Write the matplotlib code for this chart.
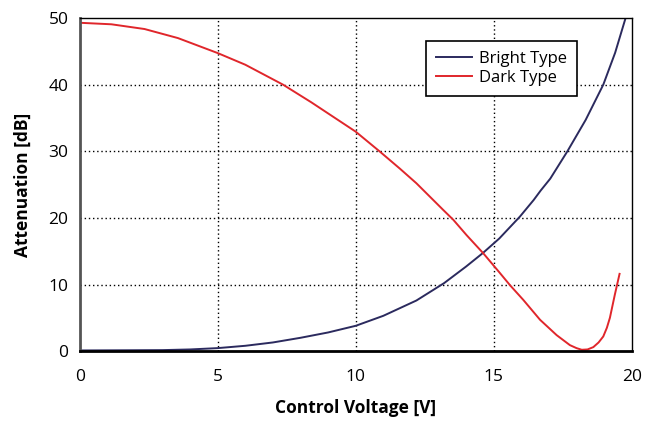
import matplotlib.pyplot as plt

plt.rcParams['font.family'] = ['Open Sans', 'DejaVu Sans']

# Courbes
bright_v = [0, 3, 4, 5, 6, 7, 8, 9, 10, 11, 12.2, 13.2, 14.0, 14.6, 15.2,
            15.95, 16.45, 16.7, 17.05, 17.67, 18.33, 18.97, 19.4, 19.85]
bright_db = [0.1, 0.15, 0.25, 0.45, 0.8, 1.3, 2.0, 2.8, 3.8, 5.3, 7.6, 10.2,
             12.7, 14.7, 16.9, 20.2, 22.7, 24.1, 25.9, 30, 34.7, 40, 44.8, 51]

dark_v = [0, 1.15, 2.35, 3.56, 5.0, 6.0, 7.37, 8.39, 10.0, 10.88, 11.6, 12.2,
          13.17, 13.54, 14.02, 14.62, 15.23, 15.59, 16.07, 16.68, 17.28,
          17.76, 18.0, 18.19, 18.4, 18.61, 18.8, 18.97, 19.1, 19.21, 19.39, 19.56]
dark_db = [49.3, 49.07, 48.36, 47.0, 44.75, 43.0, 40, 37.36, 32.95, 29.94,
           27.4, 25.2, 21.2, 19.7, 17.4, 14.7, 11.7, 9.9, 7.7, 4.7, 2.4,
           0.9, 0.45, 0.2, 0.25, 0.6, 1.3, 2.2, 3.5, 5.0, 8.5, 11.6]

x_ticks = [0, 5, 10, 15, 20]
y_ticks = [0, 10, 20, 30, 40, 50]

fig = plt.figure(figsize=(6.57, 4.21), dpi=100)
ax = fig.add_axes([0.1213, 0.166, 0.8402, 0.791])

ax.plot(bright_v, bright_db, color='#2b2a5e', linewidth=1.4, label='Bright Type')
ax.plot(dark_v, dark_db, color='#e0262b', linewidth=1.4, label='Dark Type')

ax.set_xlim(0, 20)
ax.set_ylim(0, 50)
ax.set_xticks(x_ticks)
ax.set_yticks(y_ticks)
ax.tick_params(length=0, labelsize=12.5)
ax.tick_params(axis='x', pad=13)
ax.tick_params(axis='y', pad=8)

# Grille pointillée
for v in x_ticks[1:-1]:
    ax.axvline(v, color='black', linewidth=1, linestyle=(0, (1, 2)), zorder=0)
for v in y_ticks[1:-1]:
    ax.axhline(v, color='black', linewidth=1, linestyle=(0, (1, 2)), zorder=0)

ax.spines['left'].set_color('#555555')
ax.spines['left'].set_linewidth(2)
ax.spines['bottom'].set_linewidth(2)
ax.spines['top'].set_linewidth(1)
ax.spines['right'].set_linewidth(1)

ax.set_xlabel('Control Voltage [V]', fontsize=12.5, fontweight='bold', labelpad=10)
ax.set_ylabel('Attenuation [dB]', fontsize=12.5, fontweight='bold', labelpad=12)

leg = ax.legend(loc='upper left', bbox_to_anchor=(0.627, 0.932), borderaxespad=0,
                fontsize=12, frameon=True, fancybox=False, handlelength=2.2,
                handletextpad=0.4, labelspacing=0.2, borderpad=0.6)
leg.get_frame().set_edgecolor('black')
leg.get_frame().set_linewidth(1.2)
leg.get_frame().set_alpha(1)

fig.savefig('out.png', dpi=100)
